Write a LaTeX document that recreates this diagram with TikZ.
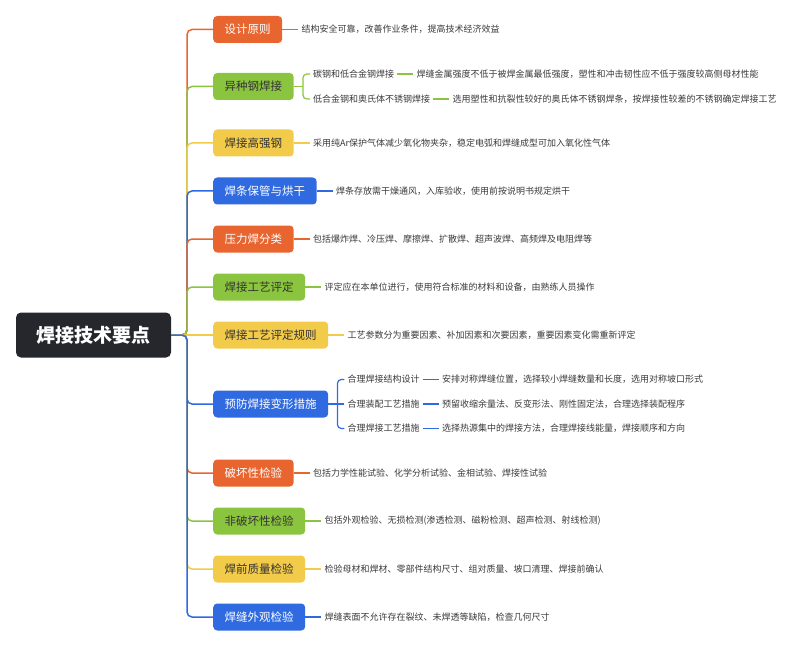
\documentclass[tikz,border=0pt]{standalone}
\usepackage{fontspec}
\setmainfont{Noto Sans CJK SC}
\usetikzlibrary{positioning}

\definecolor{orng}{HTML}{E8652F}
\definecolor{grn}{HTML}{8BC53F}
\definecolor{ylw}{HTML}{F3CB4B}
\definecolor{blu}{HTML}{2F6AE0}
\definecolor{rootc}{HTML}{26272C}
\definecolor{txt}{HTML}{3A3A3A}

\begin{document}
\begin{tikzpicture}[x=1pt,y=-1pt,node distance=16pt,
    box/.style={rounded corners=4pt,minimum height=27pt,inner xsep=11.5pt,font=\fontsize{11.5}{14}\selectfont},
    boxo/.style={box,fill=orng,text=white},
    boxg/.style={box,fill=grn,text=black!80},
    boxy/.style={box,fill=ylw,text=black!80},
    boxb/.style={box,fill=blu,text=white},
    leaf/.style={inner sep=3pt,text=txt,font=\fontsize{9}{11}\selectfont},
    lno/.style={draw=orng,line width=1.5pt,rounded corners=5pt},
    lng/.style={draw=grn,line width=1.5pt,rounded corners=5pt},
    lny/.style={draw=ylw,line width=1.5pt,rounded corners=5pt},
    lnb/.style={draw=blu,line width=1.5pt,rounded corners=5pt}]
    \useasboundingbox (0,0) rectangle (800,647);

    \node[fill=rootc,text=white,rounded corners=5pt,minimum width=155pt,minimum height=45pt,
          font=\fontsize{19}{22}\selectfont\bfseries] (root) at (93.5,335) {焊接技术要点};
    \coordinate (t) at (187,335);

    % main branches
    \node[boxo,anchor=west] (d1)  at (213,29.5) {设计原则};
    \node[boxg,anchor=west] (d2)  at (213,86.5) {异种钢焊接};
    \node[boxy,anchor=west] (d3)  at (213,143)  {焊接高强钢};
    \node[boxb,anchor=west] (d4)  at (213,191)  {焊条保管与烘干};
    \node[boxo,anchor=west] (d5)  at (213,239)  {压力焊分类};
    \node[boxg,anchor=west] (d6)  at (213,287)  {焊接工艺评定};
    \node[boxy,anchor=west] (d7)  at (213,335)  {焊接工艺评定规则};
    \node[boxb,anchor=west] (d8)  at (213,404)  {预防焊接变形措施};
    \node[boxo,anchor=west] (d9)  at (213,473)  {破坏性检验};
    \node[boxg,anchor=west] (d10) at (213,521)  {非破坏性检验};
    \node[boxy,anchor=west] (d11) at (213,569)  {焊前质量检验};
    \node[boxb,anchor=west] (d12) at (213,617)  {焊缝外观检验};

    % leaves
    \node[leaf] (l1) [right=of d1] {结构安全可靠，改善作业条件，提高技术经济效益};
    \node[leaf] (s21) [right=of d2,yshift=12.5pt] {碳钢和低合金钢焊接};
    \node[leaf] (s22) [right=of d2,yshift=-12.5pt] {低合金钢和奥氏体不锈钢焊接};
    \node[leaf] (l21) [right=of s21] {焊缝金属强度不低于被焊金属最低强度，塑性和冲击韧性应不低于强度较高侧母材性能};
    \node[leaf] (l22) [right=of s22] {选用塑性和抗裂性较好的奥氏体不锈钢焊条，按焊接性较差的不锈钢确定焊接工艺};
    \node[leaf] (l3) [right=of d3] {采用纯Ar保护气体减少氧化物夹杂，稳定电弧和焊缝成型可加入氧化性气体};
    \node[leaf] (l4) [right=of d4] {焊条存放需干燥通风，入库验收，使用前按说明书规定烘干};
    \node[leaf] (l5) [right=of d5] {包括爆炸焊、冷压焊、摩擦焊、扩散焊、超声波焊、高频焊及电阻焊等};
    \node[leaf] (l6) [right=of d6] {评定应在本单位进行，使用符合标准的材料和设备，由熟练人员操作};
    \node[leaf] (l7) [right=of d7] {工艺参数分为重要因素、补加因素和次要因素，重要因素变化需重新评定};
    \node[leaf] (s81) [right=of d8,yshift=24.5pt] {合理焊接结构设计};
    \node[leaf] (s82) [right=of d8] {合理装配工艺措施};
    \node[leaf] (s83) [right=of d8,yshift=-24.5pt] {合理焊接工艺措施};
    \node[leaf] (l81) [right=of s81] {安排对称焊缝位置，选择较小焊缝数量和长度，选用对称坡口形式};
    \node[leaf] (l82) [right=of s82] {预留收缩余量法、反变形法、刚性固定法，合理选择装配程序};
    \node[leaf] (l83) [right=of s83] {选择热源集中的焊接方法，合理焊接线能量，焊接顺序和方向};
    \node[leaf] (l9) [right=of d9] {包括力学性能试验、化学分析试验、金相试验、焊接性试验};
    \node[leaf] (l10) [right=of d10] {包括外观检验、无损检测(渗透检测、磁粉检测、超声检测、射线检测)};
    \node[leaf] (l11) [right=of d11] {检验母材和焊材、零部件结构尺寸、组对质量、坡口清理、焊接前确认};
    \node[leaf] (l12) [right=of d12] {焊缝表面不允许存在裂纹、未焊透等缺陷，检查几何尺寸};

    \coordinate (b2) at ([xshift=9pt]d2.east);
    \coordinate (b8) at ([xshift=9pt]d8.east);

    % trunk
    \draw[lno] (root.east) -- (t) |- (d1.west);
    \draw[lng] (root.east) -- (t) |- (d2.west);
    \draw[lny] (root.east) -- (t) |- (d3.west);
    \draw[lnb] (root.east) -- (t) |- (d4.west);
    \draw[lno] (root.east) -- (t) |- (d5.west);
    \draw[lng] (root.east) -- (t) |- (d6.west);
    \draw[lny] (root.east) -- (d7.west);
    \draw[lnb] (root.east) -- (t) |- (d8.west);
    \draw[lno] (root.east) -- (t) |- (d9.west);
    \draw[lng] (root.east) -- (t) |- (d10.west);
    \draw[lny] (root.east) -- (t) |- (d11.west);
    \draw[lnb] (root.east) -- (t) |- (d12.west);

    % branch to leaf
    \draw[lno,line width=1.2pt] (d1.east) -- (l1.west);
    \draw[lng,line width=1.2pt,rounded corners=4pt] (s21.west) -| (b2) |- (s22.west);
    \draw[lng,line width=1.2pt] (d2.east) -- (b2);
    \draw[lng,line width=1.2pt] (s21.east) -- (l21.west);
    \draw[lng,line width=1.2pt] (s22.east) -- (l22.west);
    \draw[lny,line width=1.2pt] (d3.east) -- (l3.west);
    \draw[lnb,line width=1.2pt] (d4.east) -- (l4.west);
    \draw[lno,line width=1.2pt] (d5.east) -- (l5.west);
    \draw[lng,line width=1.2pt] (d6.east) -- (l6.west);
    \draw[lny,line width=1.2pt] (d7.east) -- (l7.west);
    \draw[lnb,line width=1.2pt,rounded corners=4pt] (s81.west) -| (b8) |- (s83.west);
    \draw[lnb,line width=1.2pt] (d8.east) -- (s82.west);
    \draw[lnb,line width=1.2pt] (s81.east) -- (l81.west);
    \draw[lnb,line width=1.2pt] (s82.east) -- (l82.west);
    \draw[lnb,line width=1.2pt] (s83.east) -- (l83.west);
    \draw[lno,line width=1.2pt] (d9.east) -- (l9.west);
    \draw[lng,line width=1.2pt] (d10.east) -- (l10.west);
    \draw[lny,line width=1.2pt] (d11.east) -- (l11.west);
    \draw[lnb,line width=1.2pt] (d12.east) -- (l12.west);
\end{tikzpicture}
\end{document}
